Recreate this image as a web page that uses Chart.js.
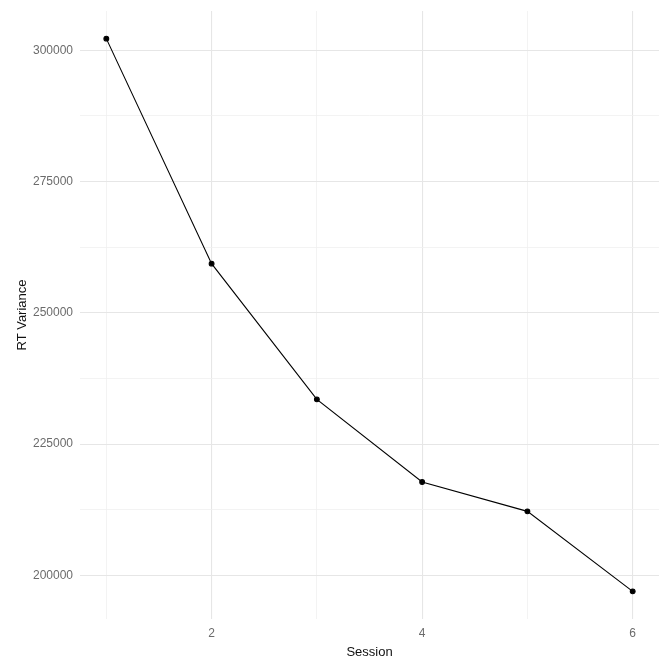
<!DOCTYPE html>
<html lang="en">

<head>
  <meta charset="UTF-8">
  <title>RT Variance by Session</title>
  <style>
    html, body {
      margin: 0;
      padding: 0;
      background: #fff;
    }
    #wrap {
      width: 659px;
      height: 664px;
    }
  </style>
</head>

<body>
  <div id="wrap">
    <canvas id="lineChart"></canvas>
  </div>

  <script src="https://cdn.jsdelivr.net/npm/chart.js"></script>
  <script>
    // data
    const sessions = [1, 2, 3, 4, 5, 6];
    const rtVariance = [302230, 259370, 233520, 217770, 212190, 196950];

    // axis ticks (labelled ones and minor grid)
    const xLabelTicks = [2, 4, 6];
    const xGridTicks = [1, 2, 3, 4, 5, 6];
    const yLabelTicks = [200000, 225000, 250000, 275000, 300000];
    const yGridTicks = [200000, 212500, 225000, 237500, 250000, 262500, 275000, 287500, 300000];

    // ggplot style 5% expansion
    const xMin = Math.min(...sessions), xMax = Math.max(...sessions);
    const yMin = Math.min(...rtVariance), yMax = Math.max(...rtVariance);
    const xPad = (xMax - xMin) * 0.05;
    const yPad = (yMax - yMin) * 0.05;

    const tickFont = { family: 'Liberation Sans, Arial, sans-serif', size: 12 };
    const titleFont = { family: 'Liberation Sans, Arial, sans-serif', size: 13 };

    const gridColor = (ctx, labelled) => {
      const v = ctx.tick ? ctx.tick.value : null;
      return labelled.includes(v) ? '#e6e6e6' : '#f0f0f0';
    };

    new Chart(document.getElementById('lineChart'), {
      type: 'line',
      data: {
        datasets: [{
          label: 'RT Variance',
          data: sessions.map((s, i) => ({ x: s, y: rtVariance[i] })),
          borderColor: '#000',
          backgroundColor: '#000',
          borderWidth: 1.1,
          pointRadius: 2.4,
          pointHoverRadius: 2.4,
          tension: 0
        }]
      },
      options: {
        responsive: true,
        maintainAspectRatio: false,
        animation: false,
        layout: {
          autoPadding: false, // no extra room for point radius
          padding: { top: 11, right: 0, left: 0, bottom: 0 }
        },
        plugins: {
          legend: { display: false },
          tooltip: { enabled: false }
        },
        scales: {
          x: {
            type: 'linear',
            min: xMin - xPad,
            max: xMax + xPad,
            border: { display: false },
            afterBuildTicks: (scale) => {
              scale.ticks = xGridTicks.map(v => ({ value: v }));
            },
            afterFit: (scale) => {
              scale.height = 45;
              scale.paddingLeft = 0;
              scale.paddingRight = 0;
            },
            grid: {
              drawTicks: false,
              color: (ctx) => gridColor(ctx, xLabelTicks),
              lineWidth: (ctx) => xLabelTicks.includes(ctx.tick && ctx.tick.value) ? 1.1 : 0.8
            },
            ticks: {
              padding: 7,
              color: '#6b6b6b',
              font: tickFont,
              autoSkip: false,
              maxRotation: 0,
              callback: (v) => xLabelTicks.includes(v) ? String(v) : ''
            },
            title: {
              display: true,
              text: 'Session',
              color: '#111',
              font: titleFont,
              padding: { top: 0, bottom: 4 }
            }
          },
          y: {
            min: yMin - yPad,
            max: yMax + yPad,
            border: { display: false },
            afterBuildTicks: (scale) => {
              scale.ticks = yGridTicks.map(v => ({ value: v }));
            },
            afterFit: (scale) => {
              scale.width = 80;
              scale.paddingTop = 0;
              scale.paddingBottom = 0;
            },
            grid: {
              drawTicks: false,
              color: (ctx) => gridColor(ctx, yLabelTicks),
              lineWidth: (ctx) => yLabelTicks.includes(ctx.tick && ctx.tick.value) ? 1.1 : 0.8
            },
            ticks: {
              padding: 7,
              color: '#6b6b6b',
              font: tickFont,
              autoSkip: false,
              callback: (v) => yLabelTicks.includes(v) ? String(v) : ''
            },
            title: {
              display: true,
              text: 'RT Variance',
              color: '#111',
              font: titleFont,
              padding: { top: 15, bottom: 0 }
            }
          }
        }
      }
    });
  </script>
</body>

</html>
